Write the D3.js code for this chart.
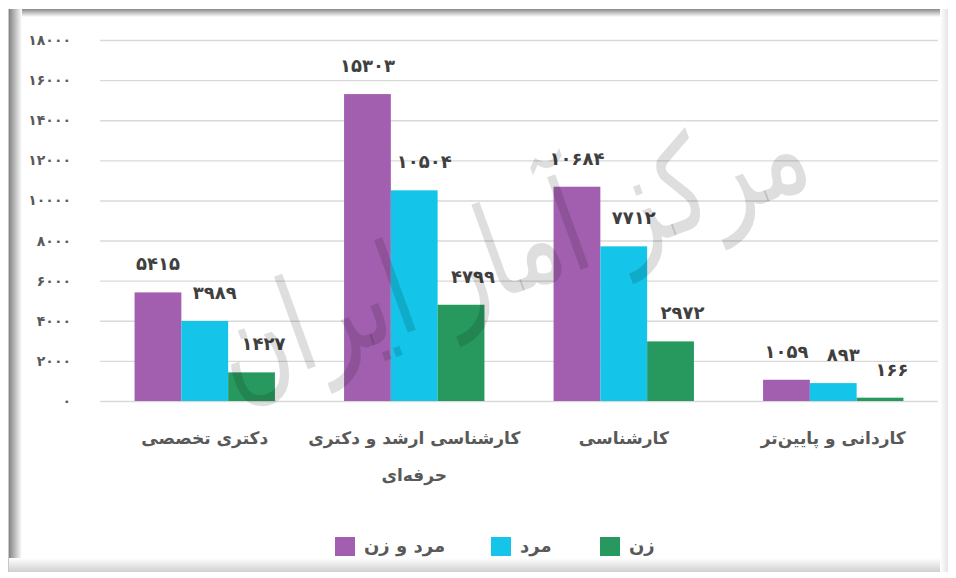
<!DOCTYPE html>
<html>
<head>
  <meta charset="utf-8">
  <script src="https://d3js.org/d3.v7.min.js"></script>
  <style>
    body { margin: 0; background: #fff; }
    text { font-family: "DejaVu Sans", sans-serif; }
    .axis path { display: none; }
    .y.axis line { stroke: #d9d9d9; stroke-width: 1.4; }
    .y.axis text { font-size: 14px; font-weight: bold; fill: #595959; }
    .x.axis line { display: none; }
    .x.axis text { font-size: 17px; font-weight: bold; fill: #595959; }
    .val { font-size: 18px; font-weight: bold; fill: #404040; text-anchor: middle; }
    .legend text { font-size: 18px; font-weight: bold; fill: #595959; }
  </style>
</head>
<body>
<script>
  var categories = ["دکتری تخصصی", "کارشناسی ارشد و دکتری حرفه‌ای", "کارشناسی", "کاردانی و پایین‌تر"];
  var seriesNames = ["مرد و زن", "مرد", "زن"];
  var seriesColors = ["#a25faf", "#14c5e9", "#28995e"];
  var totalValues = [5415, 15303, 10684, 1059];
  var maleValues = [3989, 10504, 7712, 893];
  var femaleValues = [1427, 4799, 2972, 166];
  var yTicks = [0, 2000, 4000, 6000, 8000, 10000, 12000, 14000, 16000, 18000];

  var series = [totalValues, maleValues, femaleValues];

  var faDigits = "۰۱۲۳۴۵۶۷۸۹";
  function fa(n) {
    return String(n).replace(/[0-9]/g, function(c) { return faDigits[+c]; });
  }

  var W = 956, H = 578;
  var svg = d3.select("body").append("svg")
    .attr("width", W).attr("height", H);

  // frame with soft inner shadow
  var defs = svg.append("defs");
  function grad(id, x1, y1, x2, y2, c1, c2) {
    var g = defs.append("linearGradient").attr("id", id)
      .attr("x1", x1).attr("y1", y1).attr("x2", x2).attr("y2", y2);
    g.append("stop").attr("offset", "0%").attr("stop-color", c1);
    g.append("stop").attr("offset", "100%").attr("stop-color", c2);
  }
  grad("gTop", 0, 0, 0, 1, "#8a8a8a", "#ffffff");
  grad("gLeft", 0, 0, 1, 0, "#7a7a7a", "#ffffff");
  grad("gBottom", 0, 0, 0, 1, "#ffffff", "#d0d0d0");
  grad("gRight", 0, 0, 1, 0, "#ffffff", "#e4e4e4");

  svg.append("rect").attr("x", 0).attr("y", 0).attr("width", W).attr("height", H).attr("fill", "#fff");
  svg.append("rect").attr("x", 8).attr("y", 9).attr("width", 940).attr("height", 8).attr("fill", "url(#gTop)");
  svg.append("rect").attr("x", 8).attr("y", 9).attr("width", 14).attr("height", 563).attr("fill", "url(#gLeft)");
  svg.append("rect").attr("x", 8).attr("y", 558).attr("width", 940).attr("height", 14).attr("fill", "url(#gBottom)");
  svg.append("rect").attr("x", 940).attr("y", 9).attr("width", 8).attr("height", 563).attr("fill", "url(#gRight)");
  svg.append("line").attr("x1", 8.5).attr("x2", 8.5).attr("y1", 9).attr("y2", 572)
    .attr("stroke", "#c8c8c8");

  var margin = { top: 40, left: 100 },
      width = 838, height = 361;

  var g = svg.append("g")
    .attr("transform", "translate(" + margin.left + "," + margin.top + ")");

  var y = d3.scaleLinear().domain([0, 18000]).range([height, 0]);
  var x0 = d3.scaleBand().domain(categories).range([0, width])
    .paddingInner(0.33).paddingOuter(0.165);
  var x1 = d3.scaleBand().domain(d3.range(series.length)).range([0, x0.bandwidth()]);

  g.append("g").attr("class", "y axis")
    .call(d3.axisLeft(y).tickValues(yTicks).tickSize(-width).tickPadding(29)
      .tickFormat(function(d) { return fa(d); }));

  g.append("g").attr("class", "x axis")
    .attr("transform", "translate(0," + height + ")")
    .call(d3.axisBottom(x0).tickSize(0).tickPadding(0));

  // wrap long category names
  g.selectAll(".x.axis .tick text").each(function(d) {
    var t = d3.select(this).text("").attr("y", 0).attr("dy", null);
    var lines = d === categories[1] ? ["کارشناسی ارشد و دکتری", "حرفه‌ای"] : [d];
    lines.forEach(function(l, i) {
      t.append("tspan").attr("x", 0).attr("y", 43 + i * 37).text(l);
    });
  });

  var groups = g.selectAll(".grp").data(categories).enter().append("g")
    .attr("transform", function(d) { return "translate(" + x0(d) + ",0)"; });

  groups.selectAll("rect")
    .data(function(d, ci) { return series.map(function(s, si) { return { si: si, v: s[ci] }; }); })
    .enter().append("rect")
    .attr("x", function(d) { return x1(d.si); })
    .attr("width", x1.bandwidth())
    .attr("y", function(d) { return y(d.v); })
    .attr("height", function(d) { return height - y(d.v); })
    .attr("fill", function(d) { return seriesColors[d.si]; });

  var labelShift = [0, 10, 12];
  groups.selectAll(".val")
    .data(function(d, ci) { return series.map(function(s, si) { return { si: si, v: s[ci] }; }); })
    .enter().append("text")
    .attr("class", "val")
    .attr("x", function(d) { return x1(d.si) + x1.bandwidth() / 2 + labelShift[d.si]; })
    .attr("y", function(d) { return y(d.v) - 22; })
    .text(function(d) { return fa(d.v); });

  // legend
  var legendX = [335, 491, 600];
  var legend = svg.append("g").attr("class", "legend");
  seriesNames.forEach(function(name, i) {
    legend.append("rect").attr("x", legendX[i]).attr("y", 537)
      .attr("width", 20).attr("height", 19).attr("fill", seriesColors[i]);
    legend.append("text").attr("x", legendX[i] + 29).attr("y", 552).text(name);
  });

  // watermark
  svg.append("text")
    .attr("transform", "translate(525,290) rotate(-20) scale(1,1.35)")
    .attr("text-anchor", "middle")
    .style("font-size", "96px")
    .style("font-family", "DejaVu Sans, sans-serif")
    .attr("fill", "#000")
    .attr("fill-opacity", 0.13)
    .text("مرکز آمار ایران");
</script>
</body>
</html>
